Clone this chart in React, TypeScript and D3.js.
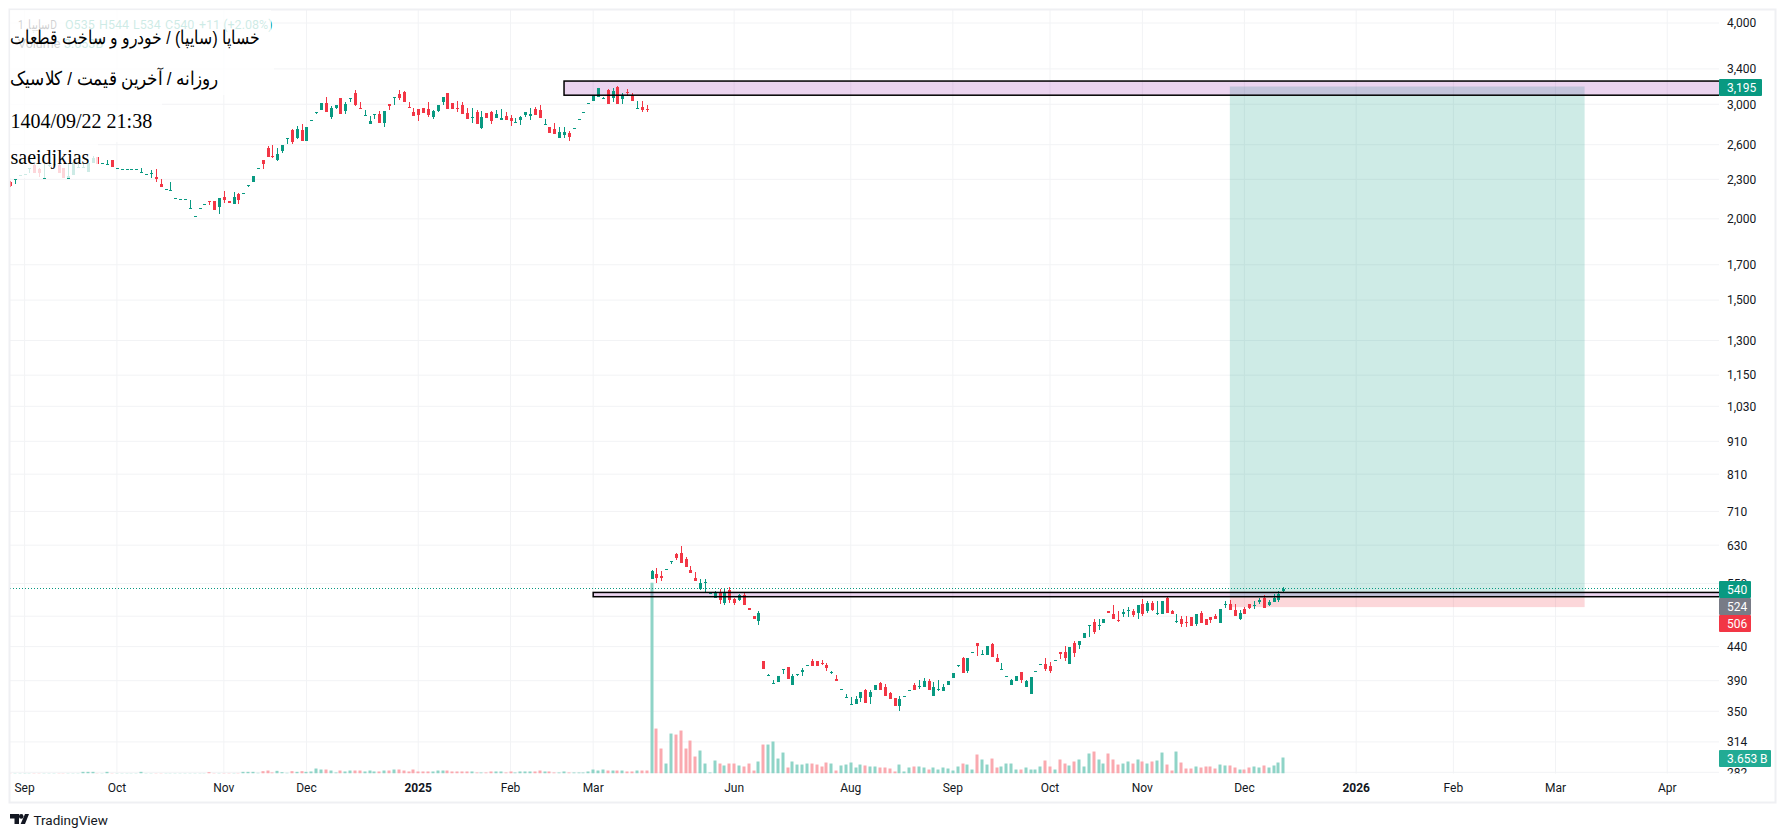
import React from 'react';
import * as d3 from 'd3';

// [open, high, low, close] for each daily bar
const bars: [number, number, number, number][] = [
  [2280,2285,2240,2245],[2302,2305,2262,2305],[2335,2338,2335,2338],[2343,2346,2343,2346],[2390,2392,2350,2392],
  [2420,2425,2350,2350],[2390,2392,2318,2350],[2310,2437,2310,2315],[2415,2425,2400,2420],[2428,2432,2428,2432],
  [2420,2440,2355,2355],[2395,2397,2310,2310],[2305,2437,2302,2325],[2335,2447,2335,2445],[2400,2445,2400,2405],
  [2395,2430,2395,2400],[2360,2440,2360,2437],[2437,2495,2437,2480],[2490,2490,2430,2430],[2432,2436,2432,2436],
  [2425,2463,2425,2430],[2463,2463,2405,2405],[2390,2393,2390,2393],[2383,2386,2383,2386],[2383,2386,2383,2386],
  [2383,2386,2383,2386],[2383,2386,2383,2386],[2355,2391,2355,2358],[2338,2345,2335,2342],[2345,2380,2313,2355],
  [2319,2383,2281,2303],[2262,2303,2238,2238],[2222,2225,2222,2225],[2212,2279,2212,2215],[2153,2156,2153,2156],
  [2142,2145,2142,2145],[2142,2145,2142,2145],[2075,2141,2074,2078],[2016,2019,2016,2019],[2078,2081,2078,2081],
  [2104,2107,2104,2107],[2133,2133,2100,2130],[2130,2132,2066,2066],[2086,2150,2037,2150],[2160,2205,2118,2138],
  [2130,2130,2118,2118],[2110,2200,2110,2160],[2182,2190,2108,2141],[2189,2192,2189,2192],[2255,2258,2241,2258],
  [2281,2327,2281,2327],[2388,2392,2388,2392],[2463,2463,2385,2425],[2567,2588,2493,2493],[2499,2597,2482,2490],
  [2466,2573,2457,2516],[2546,2597,2528,2597],[2657,2660,2606,2660],[2739,2749,2606,2624],[2666,2778,2650,2752],
  [2739,2797,2633,2633],[2633,2768,2633,2768],[2831,2835,2831,2835],[2914,2918,2900,2918],[2940,3013,2940,3013],
  [3013,3078,2916,2920],[2871,2982,2847,2961],[2957,2992,2950,2992],[3067,3067,2898,2898],[2933,3020,2900,3002],
  [3060,3063,3024,3063],[3122,3156,2982,2992],[2965,3020,2961,2961],[2882,2936,2880,2885],[2800,2875,2800,2825],
  [2893,2898,2847,2896],[2898,2925,2805,2805],[2808,2930,2768,2930],[3003,3003,2940,2985],[3071,3074,2992,3074],
  [3110,3156,3045,3070],[3134,3145,3024,3027],[2968,3024,2965,2965],[2920,2961,2878,2878],[2950,2950,2829,2891],
  [2957,2965,2905,2912],[2950,3020,2871,2888],[2871,2940,2850,2930],[2933,2992,2923,2992],[3024,3074,2992,3074],
  [3122,3122,2950,2950],[3013,3013,2950,2950],[2960,3035,2920,2957],[2992,3020,2898,2898],[2908,2957,2847,2847],
  [2869,2965,2810,2872],[2920,2940,2797,2797],[2759,2933,2752,2868],[2908,2908,2857,2857],[2920,2930,2797,2830],
  [2857,2940,2857,2898],[2837,2950,2837,2854],[2878,2920,2837,2837],[2857,2888,2781,2827],[2813,2857,2805,2816],
  [2837,2881,2791,2868],[2888,2923,2868,2920],[2878,2957,2837,2898],[2950,2971,2888,2888],[2940,2992,2857,2857],
  [2793,2847,2791,2796],[2768,2768,2711,2711],[2749,2808,2701,2701],[2663,2768,2663,2720],[2691,2768,2663,2720],
  [2711,2730,2633,2672],[2753,2757,2753,2757],[2842,2846,2842,2846],[2914,2918,2914,2918],[3008,3012,3008,3012],
  [3035,3100,3035,3100],[3078,3178,3078,3178],[3066,3078,3057,3069],[3156,3167,3003,3003],[3067,3178,3024,3145],
  [3190,3200,3003,3003],[3057,3122,3003,3096],[3134,3167,3089,3131],[3100,3122,3035,3035],[2955,3035,2950,2958],
  [2971,3035,2920,2940],[2949,2992,2920,2946],
  [559,578,559,576],[569,581,552,561],[565,576,555,561],[578,579,578,579],[594,595,589,595],[611,613,598,602],
  [613,628,592,592],[599,604,583,583],[577,585,571,571],[561,573,555,555],[540,558,538,552],[552,559,534,553],
  [531,532,531,532],[523,536,523,534],[534,540,512,519],[514,540,510,534],[538,544,514,519],[521,523,510,514],
  [519,530,517,528],[528,532,510,510],[504,504,501,501],[491,491,485,485],[481,499,475,495],[418,418,406,406],
  [397,400,397,398],[386,391,386,387],[388,397,388,397],[406,407,400,407],[410,410,393,393],[384,400,384,396],
  [399,400,397,400],[402,408,397,405],[411,412,411,412],[418,421,411,411],[418,418,411,411],[415,420,412,414],
  [412,415,404,408],[401,403,400,402],[393,398,389,389],[378,379,378,379],[367,372,367,368],[358,368,358,359],
  [359,369,359,365],[367,375,362,375],[378,379,361,361],[368,378,359,375],[378,384,378,384],[387,388,377,377],
  [382,386,370,370],[374,375,365,365],[367,367,357,357],[357,369,350,366],[368,369,368,369],[376,377,376,377],
  [384,387,377,377],[382,391,379,383],[382,394,382,389],[389,392,377,377],[370,388,370,382],[377,391,376,379],
  [376,385,376,381],[384,389,384,389],[394,401,394,401],[411,412,409,412],[422,424,401,401],[403,422,401,422],
  [431,432,431,432],[446,446,426,441],[427,434,427,428],[427,441,427,441],[444,446,424,424],[422,429,417,417],
  [405,415,405,406],[395,396,395,396],[384,393,384,391],[390,397,390,397],[402,402,387,391],[381,391,381,390],
  [372,395,372,395],[402,403,402,403],[413,414,413,414],[414,423,403,407],[411,417,401,403],[419,420,419,420],
  [431,431,421,428],[431,441,418,422],[414,439,414,439],[446,449,424,430],[442,449,436,449],[454,461,454,461],
  [474,475,456,475],[480,486,460,463],[474,485,467,475],[478,485,478,485],[499,499,495,495],[494,510,485,485],
  [484,499,480,483],[494,502,488,497],[499,507,488,500],[499,503,488,492],[496,510,486,510],[511,521,491,494],
  [499,517,495,513],[513,517,499,501],[495,517,492,496],[494,517,494,517],[522,527,496,496],[499,501,494,494],
  [480,494,479,481],[486,490,471,477],[480,490,471,479],[488,488,474,474],[477,494,473,494],[496,499,479,479],
  [486,486,475,475],[488,488,479,483],[490,494,485,485],[479,502,479,502],[511,517,504,512],[511,519,501,501],
  [501,511,490,490],[485,501,483,496],[503,507,494,494],[511,511,502,504],[508,517,502,509],[515,522,511,519],
  [522,528,505,505],[510,519,508,515],[516,530,516,522],[519,535,515,530],[535,544,534,540],
];

// traded volume per bar, in billions
const volumes: number[] = [
  .1,.1,.1,.1,.1,.1,.1,.1,.1,.1,.1,.1,.1,.1,.1,.38,.38,.38,.1,.1,.38,.1,.1,.1,.1,.1,.1,.38,.1,.1,.1,.1,.1,.1,.1,.1,.1,.1,.1,.1,.1,.3,
  .12,.12,.12,.12,.12,.12,.38,.38,.38,.15,.53,.68,.23,.61,.3,.15,.53,.38,.53,.38,
  .46,1.14,.91,.91,.68,.23,.68,.46,.68,.68,.68,.46,.68,.46,.46,.68,.68,.91,.91,.68,.46,.91,.46,.46,.46,.46,.68,.68,.68,.46,.46,.46,.46,.46,
  .23,.23,.23,.46,.46,.46,.23,.46,.23,.46,.46,.46,.46,.68,.46,.46,.23,.23,.46,.23,.23,.23,.23,.46,.91,.68,.91,.68,.68,.68,.68,.46,.46,.68,.68,.68,
  43.6,10.27,5.71,2.28,9.13,8.9,9.82,5.71,7.53,3.88,5.25,2.28,.23,2.97,2.28,1.83,2.28,2.28,1.83,1.6,2.28,.68,2.74,6.62,6.62,7.31,3.42,4.79,1.37,
  2.74,2.05,2.05,2.28,2.28,2.05,1.6,2.51,2.28,.68,1.83,2.05,2.51,1.37,2.05,1.83,1.6,1.6,1.37,1.37,1.14,.46,2.05,.46,1.37,1.6,1.6,1.37,.91,1.37,.91,1.37,1.14,.68,1.6,
  2.28,2.05,.91,4.34,3.2,2.05,3.42,1.37,1.6,2.28,2.28,.91,.91,1.37,.91,.91,1.6,2.97,1.6,.91,3.2,2.28,1.83,2.74,3.2,1.6,4.57,5.02,3.2,2.28,4.57,3.2,2.05,2.28,2.74,2.28,3.2,
  2.74,2.28,2.74,2.97,4.79,2.05,.68,5.02,2.51,1.14,1.14,1.6,1.37,1.6,1.6,1.14,2.05,1.83,1.83,1.37,.91,.91,1.37,1.6,1.37,1.83,1.37,1.83,2.51,3.653,
];

const priceTicks = [4000, 3400, 3000, 2600, 2300, 2000, 1700, 1500, 1300, 1150, 1030, 910, 810, 710, 630, 550, 490, 440, 390, 350, 314, 282];
const timeLabels = ['Sep', 'Oct', 'Nov', 'Dec', '2025', 'Feb', 'Mar', 'Jun', 'Aug', 'Sep', 'Oct', 'Nov', 'Dec', '2026', 'Feb', 'Mar', 'Apr'];
const timeLabelBars = [3, 22, 44, 61, 84, 103, 120, 149, 173, 194, 214, 233, 254, 277, 297, 318, 341];

// drawings: two zones that run to the right edge, and a long position
const zones = [
  { fromBar: 114, top: 3257, bottom: 3098 },
  { fromBar: 120, top: 533, bottom: 525 },
];
const position = { fromBar: 251, toBar: 324, target: 3195, entry: 524, stop: 506 };
const lastClose = 540;

const priceBadges = [
  { label: '3,195', color: '#089981', top: 79, width: 43 },
  { label: '540', color: '#089981', top: 581, width: 32 },
  { label: '524', color: '#787b86', top: 598, width: 32 },
  { label: '506', color: '#f23645', top: 615, width: 32 },
  { label: '3.653 B', color: '#22ab94', top: 750, width: 52 },
];

const titleLines = [
  { text: 'خساپا (سایپا) / خودرو و ساخت قطعات', y: 44, rtl: true, span: 250 },
  { text: 'روزانه / آخرین قیمت / کلاسیک', y: 84.5, rtl: true, span: 208 },
  { text: '1404/09/22 21:38', y: 128, rtl: false, span: 0 },
  { text: 'saeidjkias', y: 164, rtl: false, span: 0 },
];
// white plates behind the title lines, they fade whatever is underneath
const titlePlates = [
  { y: 10, h: 45, w: 261 },
  { y: 55, h: 40, w: 264 },
  { y: 95, h: 47, w: 152 },
  { y: 142, h: 36, w: 88 },
];

const width = 1785;
const height = 837;
const plot = { left: 10, right: 1719, top: 10, bottom: 773.5 };
const green = '#089981';
const red = '#f23645';
const gridColor = '#f2f3f5';
const uiFont = 'Roboto, sans-serif';

const App: React.FC = () => {
  const x = d3.scaleLinear().domain([0, bars.length - 1]).range([10, 1283.3]);
  const y = d3.scaleLog().domain([282, 4000]).range([772.3, 23]);
  const vol = d3.scaleLinear().domain([0, 43.6]).range([plot.bottom, 582.7]);
  const px = (i: number) => Math.round(x(i));

  return (
    <svg width={width} height={height} style={{ position: 'fixed', left: 0, top: 0, background: '#fff' }}>
      <defs>
        <clipPath id="plot-clip">
          <rect x={plot.left} y={plot.top} width={plot.right - plot.left} height={plot.bottom - plot.top} />
        </clipPath>
        <clipPath id="axis-clip">
          <rect x={plot.right} y={plot.top} width={56} height={plot.bottom - plot.top} />
        </clipPath>
      </defs>

      {/* grid */}
      {priceTicks.map((t) => (
        <line key={`gy-${t}`} x1={plot.left} x2={plot.right} y1={y(t)} y2={y(t)} stroke={gridColor} strokeWidth={1} />
      ))}
      {timeLabelBars.map((b) => (
        <line key={`gx-${b}`} x1={x(b)} x2={x(b)} y1={plot.top} y2={plot.bottom} stroke={gridColor} strokeWidth={1} />
      ))}

      <g clipPath="url(#plot-clip)">
        {/* volume */}
        {volumes.map((v, i) => (
          <rect
            key={`v-${i}`}
            x={px(i) - 1.5}
            y={vol(v)}
            width={3}
            height={plot.bottom - vol(v)}
            fill={bars[i][3] >= bars[i][0] ? '#8fd4c7' : '#faa9af'}
          />
        ))}

        {/* position */}
        <rect
          x={x(position.fromBar)}
          y={y(position.target)}
          width={x(position.toBar) - x(position.fromBar)}
          height={y(position.entry) - y(position.target)}
          fill={green}
          fillOpacity={0.2}
        />
        <rect
          x={x(position.fromBar)}
          y={y(position.entry)}
          width={x(position.toBar) - x(position.fromBar)}
          height={y(position.stop) - y(position.entry)}
          fill={red}
          fillOpacity={0.2}
        />

        {/* zone fills */}
        {zones.map((z) => (
          <rect
            key={`zf-${z.fromBar}`}
            x={x(z.fromBar)}
            y={y(z.top)}
            width={plot.right - x(z.fromBar)}
            height={y(z.bottom) - y(z.top)}
            fill="#9c27b0"
            fillOpacity={0.2}
          />
        ))}

        {/* candles */}
        {bars.map(([o, h, l, c], i) => {
          const color = c >= o ? green : red;
          const top = y(Math.max(o, c));
          const bottom = y(Math.min(o, c));
          return (
            <g key={`c-${i}`} shapeRendering="crispEdges">
              <rect x={px(i) - 0.5} y={y(h)} width={1} height={Math.max(y(l) - y(h), 1)} fill={color} />
              <rect x={px(i) - 1.5} y={top} width={3} height={Math.max(bottom - top, 1)} fill={color} />
            </g>
          );
        })}

        {/* zone outlines */}
        {zones.map((z) => (
          <rect
            key={`zs-${z.fromBar}`}
            x={x(z.fromBar)}
            y={y(z.top)}
            width={plot.right - x(z.fromBar) + 4}
            height={y(z.bottom) - y(z.top)}
            fill="none"
            stroke="#000"
            strokeWidth={1.5}
          />
        ))}

        {/* last price line */}
        <line
          x1={plot.left}
          x2={plot.right}
          y1={y(lastClose)}
          y2={y(lastClose)}
          stroke={green}
          strokeDasharray="1 2"
          shapeRendering="crispEdges"
        />
      </g>

      {/* frame */}
      <rect x={plot.left - 0.5} y={plot.top - 0.5} width={1766} height={793} fill="none" stroke="#eff0f3" strokeWidth={2} />

      {/* price axis */}
      <g clipPath="url(#axis-clip)" fontFamily={uiFont} fontSize={12} fill="#131722">
        {priceTicks.map((t) => (
          <text key={`py-${t}`} x={1727} y={y(t)} dy="0.36em">
            {d3.format(',')(t)}
          </text>
        ))}
      </g>
      {priceBadges.map((b) => (
        <g key={`b-${b.label}`} fontFamily={uiFont} fontSize={12}>
          <rect x={plot.right} y={b.top} width={b.width} height={17} fill={b.color} rx={1} />
          <text x={1727} y={b.top + 8.5} dy="0.36em" fill="#fff">
            {b.label}
          </text>
        </g>
      ))}

      {/* time axis */}
      <g fontFamily={uiFont} fontSize={12} fill="#131722" textAnchor="middle">
        {timeLabels.map((label, i) => (
          <text key={`tx-${i}`} x={x(timeLabelBars[i])} y={788} dy="0.36em" fontWeight={label.length === 4 ? 700 : 400}>
            {label}
          </text>
        ))}
      </g>

      {/* legend, covered by the white plates below */}
      <g fontFamily={uiFont} fontSize={12.5} fill={green}>
        <text x={18} y={29} fill="#131722" textLength={39} lengthAdjust="spacingAndGlyphs">سایپا, 1D</text>
        <text x={65} y={29}>O535</text>
        <text x={99} y={29}>H544</text>
        <text x={133} y={29}>L534</text>
        <text x={165} y={29}>C540</text>
        <text x={199} y={29}>+11 (+2.08%)</text>
        <text x={18} y={48} fill="#131722">Volume</text>
        <text x={64} y={48}>3.653B</text>
      </g>
      {titlePlates.map((p) => (
        <rect key={`p-${p.y}`} x={plot.left} y={p.y} width={p.w} height={p.h} fill="#fff" fillOpacity={0.8} />
      ))}
      {titleLines.map((t) =>
        t.rtl ? (
          <text
            key={`t-${t.y}`}
            x={10}
            y={t.y}
            fontFamily="'Liberation Sans', sans-serif"
            fontSize={19}
            fill="#000"
            textLength={t.span}
            lengthAdjust="spacingAndGlyphs"
          >
            {t.text}
          </text>
        ) : (
          <text key={`t-${t.y}`} x={10.5} y={t.y} fontFamily="'Liberation Serif', serif" fontSize={20} fill="#000">
            {t.text}
          </text>
        ),
      )}

      {/* brand mark */}
      <g fill="#131722">
        <path d="M10 814h9v10h-4.5v-5.5H10z" />
        <circle cx={21.2} cy={816.4} r={2.3} />
        <path d="M25 814h4l-4 10h-4.4z" />
        <text x={33.5} y={824.5} fontFamily={uiFont} fontSize={13.5}>TradingView</text>
      </g>
    </svg>
  );
};

export default App;
